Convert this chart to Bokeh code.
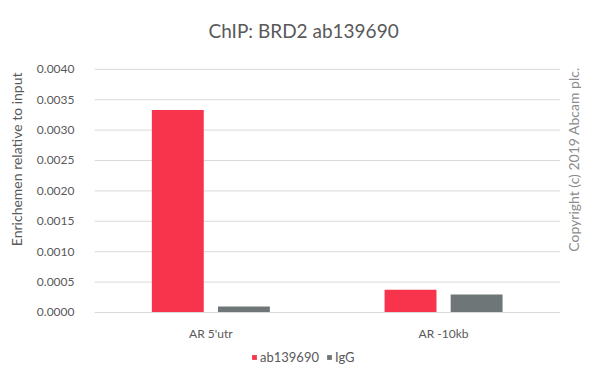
import math
from bokeh.plotting import figure
from bokeh.models import (Range1d, Legend, LegendItem, LinearAxis, Label, Title,
                          FixedTicker, NumeralTickFormatter, ColumnDataSource)
from bokeh.transform import dodge
from bokeh.embed import file_html
from bokeh.resources import INLINE

categories = ["AR 5'utr", "AR -10kb"]
ab139690 = [0.00333, 0.000376]
igg = [0.000100, 0.000295]
series_names = ["ab139690", "IgG"]
y_ticks = [0.0, 0.0005, 0.0010, 0.0015, 0.0020, 0.0025, 0.0030, 0.0035, 0.0040]
colors = ["#F7344B", "#6E7677"]

FONT = "Lato"
TXT = "#595959"

xpos = [i + 0.5 for i in range(len(categories))]
ncat = len(categories)
src = ColumnDataSource(dict(x=xpos, cat=categories, a=ab139690, g=igg))

p = figure(width=583, height=365, output_backend="svg", toolbar_location=None,
           x_range=Range1d(0, 2.1013), y_range=Range1d(-0.000872, 0.0043257),
           x_axis_type=None, y_axis_type=None,
           min_border_left=85, min_border_right=0, min_border_top=49,
           min_border_bottom=0)
p.outline_line_color = None
p.background_fill_color = "white"
p.border_fill_color = "white"
p.xgrid.visible = False
p.ygrid.visible = False

p.title.text = "ChIP: BRD2 ab139690"
p.title.align = "left"
p.title.offset = 114
p.title.vertical_align = "bottom"
p.title.text_font = FONT
p.title.text_font_size = "19px"
p.title.text_font_style = "normal"
p.title.text_color = TXT
p.title.standoff = 16

# horizontal grid lines spanning the category area
p.segment(x0=[0] * len(y_ticks), x1=[ncat] * len(y_ticks), y0=y_ticks, y1=y_ticks,
          line_color="#D9D9D9", line_width=1)

r1 = p.vbar(x=dodge("x", -0.142), top="a", width=0.223,
            source=src, fill_color=colors[0], line_color=None)
r2 = p.vbar(x=dodge("x", 0.142), top="g", width=0.223,
            source=src, fill_color=colors[1], line_color=None)

# y tick axis
yax = LinearAxis(ticker=FixedTicker(ticks=y_ticks), formatter=NumeralTickFormatter(format="0.0000"))
yax.axis_line_color = None
yax.major_tick_line_color = None
yax.minor_tick_line_color = None
yax.major_label_text_font = FONT
yax.major_label_text_font_size = "12px"
yax.major_label_text_color = TXT
yax.major_label_standoff = 14
p.add_layout(yax, "left")

# y axis title
ytitle = Title(text="Enrichemen relative to input", align="right", offset=23, standoff=14,
               vertical_align="top",
               text_font=FONT, text_font_size="14px", text_font_style="normal",
               text_color=TXT)
p.add_layout(ytitle, "left")

# x axis fixed at y = 0 inside the frame
xax = LinearAxis(fixed_location=0, ticker=FixedTicker(ticks=xpos), bounds=(0, ncat),
                 major_label_overrides={x: c for x, c in zip(xpos, categories)})
xax.axis_line_color = "#D9D9D9"
xax.major_tick_line_color = None
xax.minor_tick_line_color = None
xax.major_label_text_font = FONT
xax.major_label_text_font_size = "12px"
xax.major_label_text_color = TXT
xax.major_label_standoff = 8
p.add_layout(xax, "below")

copy = Label(x=2.059, y=0.002516, text="Copyright (c) 2019 Abcam plc.", angle=math.pi / 2,
             text_align="center", text_baseline="middle", text_font=FONT,
             text_font_size="14px", text_color="#8C8C8C")
p.add_layout(copy)

legend = Legend(items=[LegendItem(label=series_names[0], renderers=[r1]),
                       LegendItem(label=series_names[1], renderers=[r2])],
                orientation="horizontal", location=(157, 0))
legend.label_text_font = FONT
legend.label_text_font_size = "13px"
legend.label_text_color = TXT
legend.glyph_width = 6
legend.glyph_height = 6
legend.label_standoff = 3
legend.spacing = 7
legend.padding = 2
legend.margin = 0
legend.border_line_color = None
legend.background_fill_alpha = 0
p.add_layout(legend)

open("out.html", "w").write(file_html(p, INLINE))
